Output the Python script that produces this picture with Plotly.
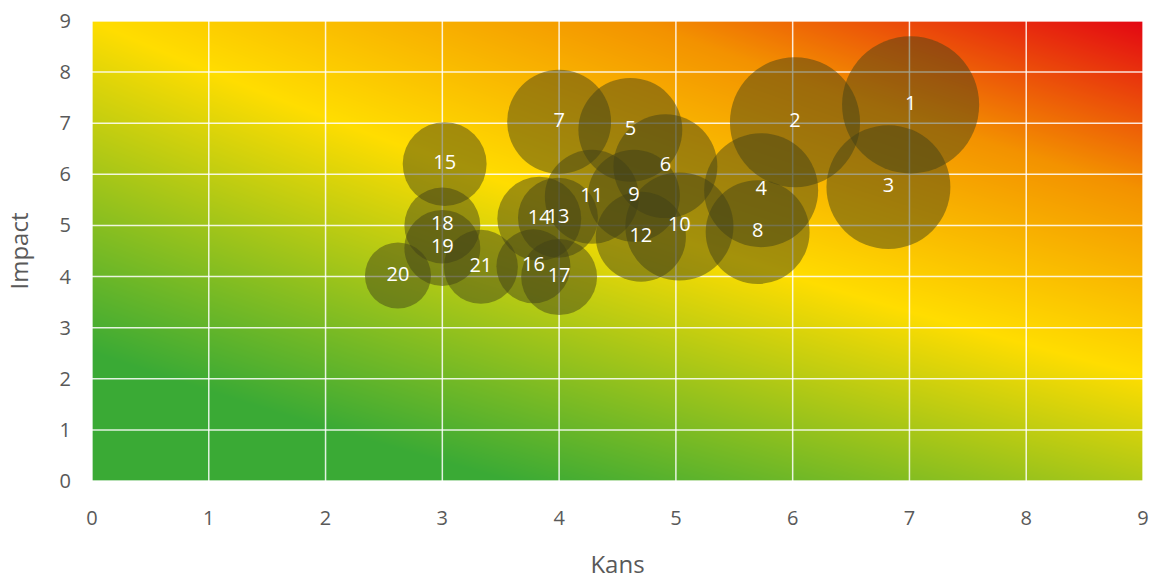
import plotly.graph_objects as go

# ---- data ----
labels = ["1", "2", "3", "4", "5", "6", "7", "8", "9", "10", "11",
          "12", "13", "14", "15", "16", "17", "18", "19", "20", "21"]
kans = [7.01, 6.02, 6.82, 5.73, 4.61, 4.91, 4.00, 5.70, 4.64, 5.03, 4.28,
        4.70, 3.99, 3.83, 3.02, 3.78, 4.00, 3.00, 3.00, 2.62, 3.33]
impact = [7.36, 7.02, 5.75, 5.69, 6.87, 6.16, 7.03, 4.87, 5.58, 4.98, 5.56,
          4.78, 5.15, 5.13, 6.20, 4.20, 3.99, 5.00, 4.56, 4.02, 4.19]
gewicht = [47.0, 42.3, 38.4, 32.5, 27.0, 27.0, 27.0, 27.0, 21.2, 29.2, 22.1,
           20.3, 16.0, 17.6, 17.6, 13.7, 14.4, 14.4, 14.4, 10.9, 13.7]

ticks = [0, 1, 2, 3, 4, 5, 6, 7, 8, 9]

# background risk gradient (corner levels, bilinear)
bg_x = [0, 9]
bg_y = [0, 9]
bg_z = [[0.0, 0.35],
        [0.50, 1.0]]
bg_scale = [[0.0, "#3aaa35"], [0.14, "#3aaa35"], [0.5, "#ffdd00"],
            [0.76, "#f39200"], [1.0, "#e30613"]]

FONT = "Open Sans"
TXT = "#595959"

fig = go.Figure()

fig.add_trace(go.Heatmap(
    x=bg_x, y=bg_y, z=bg_z, zsmooth="best", colorscale=bg_scale,
    zmin=0, zmax=1, showscale=False, hoverinfo="skip"))

# grid lines drawn between background and bubbles
gx, gy = [], []
for t in ticks:
    gx += [t, t, None]
    gy += [ticks[0], ticks[-1], None]
for t in ticks:
    gx += [ticks[0], ticks[-1], None]
    gy += [t, t, None]
fig.add_trace(go.Scatter(
    x=gx, y=gy, mode="lines", hoverinfo="skip", showlegend=False,
    line=dict(color="rgba(255,255,255,0.85)", width=1.5)))

fig.add_trace(go.Scatter(
    x=kans, y=impact, mode="markers+text", text=labels,
    textposition="middle center",
    textfont=dict(family=FONT, size=20, color="white"),
    marker=dict(size=gewicht, sizemode="area", sizeref=1 / 200,
                color="rgba(64,64,24,0.68)", line=dict(width=0)),
    showlegend=False, hoverinfo="skip", cliponaxis=False))

fig.update_layout(
    width=1151, height=580,
    margin=dict(l=92, r=8, t=21, b=99),
    paper_bgcolor="white", plot_bgcolor="white",
    font=dict(family=FONT, color=TXT),
    showlegend=False,
)
fig.update_xaxes(
    range=[0, 9], tickvals=ticks, showgrid=False, zeroline=False,
    showline=False, ticks="", ticklabelstandoff=23, automargin=False,
    ticklabeloverflow="allow",
    tickfont=dict(family=FONT, size=20, color=TXT),
    title=dict(text="Kans", font=dict(family=FONT, size=24, color=TXT), standoff=28))
fig.update_yaxes(
    range=[0, 9], tickvals=ticks, showgrid=False, zeroline=False,
    showline=False, ticks="", ticklabelstandoff=20, automargin=False,
    ticklabeloverflow="allow",
    tickfont=dict(family=FONT, size=20, color=TXT),
    title=dict(text="Impact", font=dict(family=FONT, size=24, color=TXT), standoff=24))

fig.write_html(
    "out.html",
    config={"displayModeBar": False},
    post_script="document.body.style.margin='0';document.body.style.overflow='hidden';")
